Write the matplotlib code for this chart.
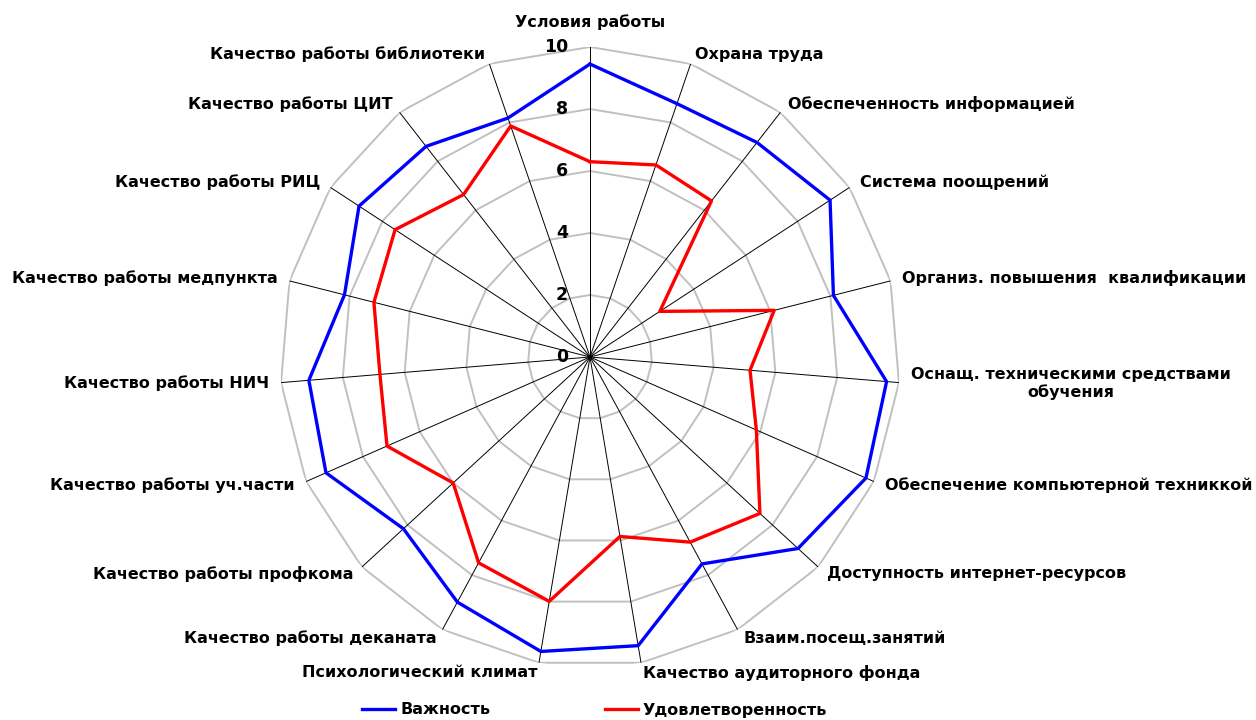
import numpy as np
import matplotlib
matplotlib.use("Agg")
import matplotlib.pyplot as plt

categories = [
    "Условия работы", "Охрана труда", "Обеспеченность информацией",
    "Система поощрений", "Организ. повышения  квалификации",
    "Оснащ. техническими средствами\nобучения",
    "Обеспечение компьютерной техниккой", "Доступность интернет-ресурсов",
    "Взаим.посещ.занятий", "Качество аудиторного фонда",
    "Психологический климат", "Качество работы деканата",
    "Качество работы профкома", "Качество работы уч.части",
    "Качество работы НИЧ", "Качество работы медпункта",
    "Качество работы РИЦ", "Качество работы ЦИТ",
    "Качество работы библиотеки",
]
importance = [9.45, 8.64, 8.77, 9.25, 8.1, 9.6, 9.72, 9.12, 7.59, 9.44,
              9.63, 8.99, 8.18, 9.3, 9.1, 8.17, 8.9, 8.61, 8.15]
satisfaction = [6.3, 6.55, 6.38, 2.69, 6.13, 5.18, 5.86, 7.45, 6.79, 5.87,
                7.99, 7.55, 6.0, 7.15, 6.8, 7.19, 7.51, 6.64, 7.88]
rticks = [0, 2, 4, 6, 8, 10]
series_names = ["Важность", "Удовлетворенность"]

plt.rcParams['font.family'] = ['DejaVu Sans']
fig = plt.figure(figsize=(12.56, 7.2), dpi=100)
W, H = 1256, 720
cx, cy, R = 590, 357, 310
ax = fig.add_axes([(cx - R) / W, (H - cy - R) / H, 2 * R / W, 2 * R / H],
                  projection='polar')
ax.set_theta_offset(np.pi / 2)
ax.set_theta_direction(-1)
ax.set_ylim(0, 10)
ax.grid(False)
ax.set_xticks([])
ax.set_yticks([])
ax.spines['polar'].set_visible(False)
ax.patch.set_visible(False)

n = len(categories)
theta = np.arange(n) * 2 * np.pi / n
theta_c = np.append(theta, theta[0])

# polygon grid
for r in rticks[1:]:
    ax.plot(theta_c, [r] * (n + 1), color='#c0c0c0', lw=1.4, zorder=1)
# spokes
for t in theta:
    ax.plot([t, t], [0, 10], color='black', lw=0.7, zorder=2)

l1, = ax.plot(theta_c, importance + importance[:1], color='#0000ff', lw=2.4,
              zorder=4, label=series_names[0])
l2, = ax.plot(theta_c, satisfaction + satisfaction[:1], color='#ff0000', lw=2.4,
              zorder=3, label=series_names[1])

for v in rticks:
    ax.annotate(str(v), xy=(0, v), xytext=(-22, 0), textcoords='offset pixels',
                ha='right', va='center', fontsize=12.5, fontweight='bold',
                zorder=5)

for t, lab in zip(theta, categories):
    s, c = np.sin(t), np.cos(t)
    if abs(s) < 0.05:
        ha = 'center'
    elif s > 0:
        ha = 'left'
    else:
        ha = 'right'
    dx = 12 * s
    dy = 10 * c + (15 if abs(s) < 0.05 and c > 0 else 0)
    ax.annotate(lab, xy=(t, 10), xytext=(dx, dy), textcoords='offset pixels',
                ha=ha, va='center', multialignment='center',
                fontsize=11.5, fontweight='bold')

fig.legend(handles=[l1, l2], loc='center', bbox_to_anchor=(595 / W, 10 / H),
           ncol=2, frameon=False, prop={'weight': 'bold', 'size': 11.5},
           handlelength=2.06, handletextpad=0.3, columnspacing=7.2)

fig.savefig("out.png", dpi=100)
